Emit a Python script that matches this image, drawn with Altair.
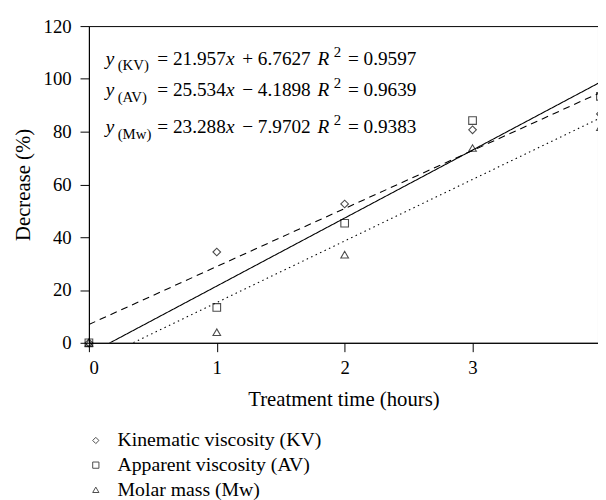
import altair as alt
import pandas as pd

# ---- data ----
hours = [0, 1, 2, 3, 4]
kv = [0, 34.4, 52.6, 80.7, 86.7]
av = [0, 13.4, 45.3, 84.2, 93.4]
mw = [0, 4.0, 33.4, 73.8, 81.7]
series_names = ["Kinematic viscosity (KV)", "Apparent viscosity (AV)", "Molar mass (Mw)"]
eq_subs = ["(KV)", "(AV)", "(Mw)"]
eq_slopes = ["21.957", "25.534", "23.288"]
eq_intercepts = ["+ 6.7627", "\u2212 4.1898", "\u2212 7.9702"]
eq_r2 = ["0.9597", "0.9639", "0.9383"]
x_ticks = [0, 1, 2, 3, 4]
y_ticks = [0, 20, 40, 60, 80, 100, 120]

rows = []
for name, vals in zip(series_names, [kv, av, mw]):
    for h, v in zip(hours, vals):
        rows.append({"hours": h, "value": v, "series": name})
df = pd.DataFrame(rows)

# ---- layout / style ----
FONT = "Liberation Serif"
W_PLOT = 516
H_PLOT = 321
X_MAX = 3.981
Y_MAX = 120
PX_X = W_PLOT / X_MAX
PX_Y = H_PLOT / Y_MAX
shapes = ["diamond", "square", "triangle-up"]
dashes = [[7, 5], [1, 0], [1.5, 3.5]]

xs = alt.Scale(domain=[0, X_MAX], nice=False, zero=False)
ys = alt.Scale(domain=[0, Y_MAX], nice=False)

x_enc = alt.X("hours:Q", scale=xs, title="Treatment time (hours)",
              axis=alt.Axis(values=x_ticks, format="d", tickSize=9, labelPadding=7,
                            titlePadding=12))
y_enc = alt.Y("value:Q", scale=ys, title="Decrease (%)",
              axis=alt.Axis(values=y_ticks, tickSize=9, labelPadding=9, titlePadding=10))

points = alt.Chart(df).mark_point(filled=False, color="black", strokeWidth=1.1, size=60).encode(
    x=x_enc, y=y_enc,
    shape=alt.Shape("series:N", scale=alt.Scale(domain=series_names, range=shapes),
                    legend=alt.Legend(title=None, orient="none", legendX=-3, legendY=410,
                                      direction="vertical", padding=0,
                                      labelFont=FONT, labelFontSize=20, labelColor="black",
                                      symbolSize=40, symbolStrokeColor="black",
                                      symbolStrokeWidth=1, labelOffset=12,
                                      rowPadding=5, labelLimit=400))
)

line_layers = []
for name, dash in zip(series_names, dashes):
    line_layers.append(
        alt.Chart(df).transform_filter(alt.datum.series == name).transform_regression(
            "hours", "value", extent=[0, 4]
        ).mark_line(clip=True, color="black", strokeWidth=1.1, strokeDash=dash).encode(
            x=alt.X("hours:Q", scale=xs),
            y=alt.Y("value:Q", scale=ys),
        )
    )

# ---- equation annotation pieces ----
TW = {c: 500 for c in "0123456789"}
TW.update({".": 250, " ": 250, "=": 564, "+": 564, "\u2212": 564, "(": 333, ")": 333,
           "K": 722, "V": 722, "A": 722, "M": 889, "w": 722})


def tw(s):
    return sum(TW[c] for c in s) / 1000.0


F = 19.5
S = 15
x0_px = 17
baselines_px = [39, 71, 108]  # from top of plot area

pieces = []
for i in range(3):
    base = baselines_px[i]
    pos = x0_px

    def add(t, kind, p, shift):
        pieces.append({"t": t, "kind": kind,
                       "hours": p / PX_X,
                       "value": Y_MAX - (base + shift) / PX_Y})
    add("y", "ital", pos, 0); pos += 0.444 * F + 3.5
    add(eq_subs[i], "small", pos, 6); pos += 31.7 + 8.5
    t = "= " + eq_slopes[i]
    add(t, "norm", pos, 0); pos += tw(t) * F
    add("x", "ital", pos, 0); pos += 0.444 * F + 0.25 * F + 3
    t = eq_intercepts[i]
    add(t, "norm", pos, 0); pos += tw(t) * F + 0.25 * F + 2
    add("R", "ital", pos, 0); pos += 0.611 * F + 4.5
    add("2", "small", pos, -8); pos += 0.5 * S + 0.25 * F + 2
    t = "= " + eq_r2[i]
    add(t, "norm", pos, 0)

pdf = pd.DataFrame(pieces)


def text_layer(kind, size, style):
    return alt.Chart(pdf).transform_filter(alt.datum.kind == kind).mark_text(
        font=FONT, fontSize=size, fontStyle=style, align="left", baseline="alphabetic",
        color="black"
    ).encode(x=alt.X("hours:Q", scale=xs), y=alt.Y("value:Q", scale=ys), text="t:N")


texts = [text_layer("norm", F, "normal"), text_layer("ital", F, "italic"),
         text_layer("small", S, "normal")]

chart = alt.layer(*line_layers, points, *texts).properties(
    width=W_PLOT, height=H_PLOT,
    background="white",
    autosize=alt.AutoSizeParams(type="none"),
    padding={"left": 82, "top": 15, "right": 0, "bottom": 156},
).configure_view(
    stroke="black", strokeWidth=1
).configure_axis(
    grid=False, domainColor="black", tickColor="black", labelColor="black",
    titleColor="black", labelFont=FONT, titleFont=FONT, labelFontSize=19,
    titleFontSize=21, titleFontWeight="normal", domainWidth=1, tickWidth=1
)

chart.save("out.html", embed_options={"renderer": "svg", "actions": False})
